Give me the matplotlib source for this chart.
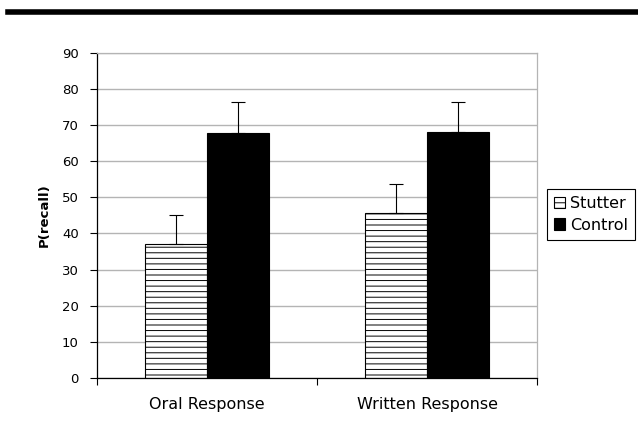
import numpy as np
import matplotlib.pyplot as plt
from matplotlib.lines import Line2D

plt.rcParams.update({
    "font.family": ["DejaVu Sans"],
    "hatch.linewidth": 0.7,
    "hatch.color": "#777777",
})

categories = ["Oral Response", "Written Response"]
stutter = [37.1, 45.7]
control = [67.9, 68.1]
stutter_err = [8.1, 8.0]
control_err = [8.6, 8.4]
yticks = list(range(0, 91, 10))


def plot_bars():
    fig = plt.figure(figsize=(6.38, 4.33), dpi=100)
    ax = fig.add_axes([0.152, 0.127, 0.690, 0.751])

    x = np.arange(len(categories)) + 0.5
    w = 0.282
    zeros = [0] * len(categories)
    ax.bar(x - w / 2, stutter, w, facecolor='white', edgecolor='black',
           linewidth=0.8, hatch='---', label='Stutter', zorder=2,
           yerr=[zeros, stutter_err], capsize=5,
           error_kw=dict(ecolor='black', elinewidth=0.8, capthick=0.8))
    ax.bar(x + w / 2, control, w, facecolor='black', edgecolor='black',
           linewidth=0.8, label='Control', zorder=2,
           yerr=[zeros, control_err], capsize=5,
           error_kw=dict(ecolor='black', elinewidth=0.8, capthick=0.8))

    ax.set_xlim(0, 2)
    ax.set_ylim(0, 90)
    ax.set_yticks(yticks)
    ax.tick_params(axis='y', direction='out', length=5, width=0.8,
                   labelsize=9.5, pad=8)
    ax.set_xticks(x)
    ax.set_xticklabels(categories)
    ax.tick_params(axis='x', length=0, labelsize=11.5, pad=14)
    ax.set_xticks([0, 1, 2], minor=True)
    ax.tick_params(axis='x', which='minor', direction='out', length=5, width=0.8)
    ax.yaxis.grid(True, color='#b4b4b4', linewidth=1)
    ax.set_axisbelow(True)

    ax.spines['left'].set_color('black')
    ax.spines['bottom'].set_color('black')
    ax.spines['top'].set_color('#b4b4b4')
    ax.spines['right'].set_color('#b4b4b4')
    for s in ax.spines.values():
        s.set_linewidth(0.9)

    ax.set_ylabel('P(recall)', fontweight='bold', fontsize=9.5, labelpad=8)

    leg = ax.legend(loc='center left', bbox_to_anchor=(0.857, 0.505),
                    bbox_transform=fig.transFigure, fontsize=11.5,
                    fancybox=False, edgecolor='black', framealpha=1,
                    handlelength=0.7, handleheight=0.7, handletextpad=0.3,
                    borderpad=0.45, labelspacing=0.4, borderaxespad=0)
    leg.get_frame().set_linewidth(0.8)

    fig.add_artist(Line2D([0.0125, 1.0], [0.973, 0.973], color='black',
                          linewidth=4, transform=fig.transFigure))

    fig.savefig('out.png', dpi=100)


if __name__ == "__main__":
    plot_bars()
